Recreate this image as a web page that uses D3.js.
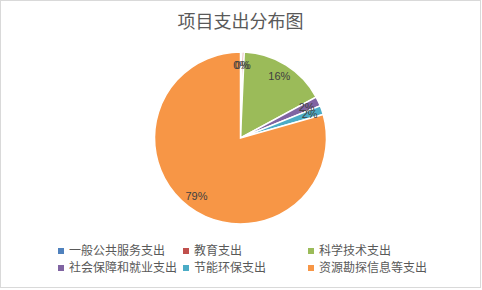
<!DOCTYPE html>
<html>
<head>
<meta charset="utf-8">
<script src="https://cdn.jsdelivr.net/npm/d3@7"></script>
<style>
  body { margin: 0; background: #fff; }
  svg { display: block; font-family: "Noto Sans CJK SC", "Microsoft YaHei", sans-serif; }
</style>
</head>
<body>
<script>
// chart data
const categories = ["一般公共服务支出", "教育支出", "科学技术支出", "社会保障和就业支出", "节能环保支出", "资源勘探信息等支出"];
const values = [0.3, 0.4, 16.4, 1.8, 1.7, 79.4];
const colors = ["#4F81BD", "#C0504D", "#9BBB59", "#8064A2", "#4BACC6", "#F79646"];
const title = "项目支出分布图";

const w = 482, h = 290;
const cx = 240.5, cy = 138, r = 86;

const svg = d3.select("body").append("svg")
  .attr("width", w)
  .attr("height", h);

svg.append("rect")
  .attr("x", 0.5).attr("y", 0.5)
  .attr("width", 480).attr("height", 287)
  .attr("fill", "#fff")
  .attr("stroke", "#d9d9d9");

svg.append("text")
  .attr("x", cx).attr("y", 28)
  .attr("text-anchor", "middle")
  .style("font-size", "18px")
  .style("fill", "#595959")
  .text(title);

const data = categories.map((c, i) => ({name: c, value: values[i], color: colors[i]}));

const pie = d3.pie().sort(null).value(d => d.value);
const arcs = pie(data);
const arc = d3.arc().innerRadius(0).outerRadius(r);
const labelArc = d3.arc().innerRadius(r * 0.85).outerRadius(r * 0.85);
const total = d3.sum(values);

const g = svg.append("g").attr("transform", `translate(${cx},${cy})`);

g.selectAll("path")
  .data(arcs)
  .join("path")
  .attr("d", arc)
  .attr("fill", d => d.data.color)
  .attr("stroke", "#fff")
  .attr("stroke-width", 1.5);

// labels sit near the rim like Excel's best fit, small ones overlap as in the original
g.selectAll("text")
  .data(arcs)
  .join("text")
  .attr("transform", d => `translate(${labelArc.centroid(d)})`)
  .attr("text-anchor", "middle")
  .attr("dy", "0.35em")
  .style("font-family", "'Liberation Sans', sans-serif")
  .style("font-size", "11px")
  .style("fill", "#404040")
  .text(d => Math.round(d.data.value / total * 100) + "%");

// legend, 3 per row
const legend = svg.append("g");
const item = legend.selectAll("g")
  .data(data)
  .join("g")
  .attr("transform", (d, i) => `translate(${58 + (i % 3) * 125},${251 + Math.floor(i / 3) * 17})`);

item.append("rect")
  .attr("x", 0).attr("y", -3)
  .attr("width", 6).attr("height", 6)
  .attr("fill", d => d.color);

item.append("text")
  .attr("x", 11)
  .attr("dy", "0.35em")
  .style("font-size", "12px")
  .style("fill", "#595959")
  .text(d => d.name);
</script>
</body>
</html>
